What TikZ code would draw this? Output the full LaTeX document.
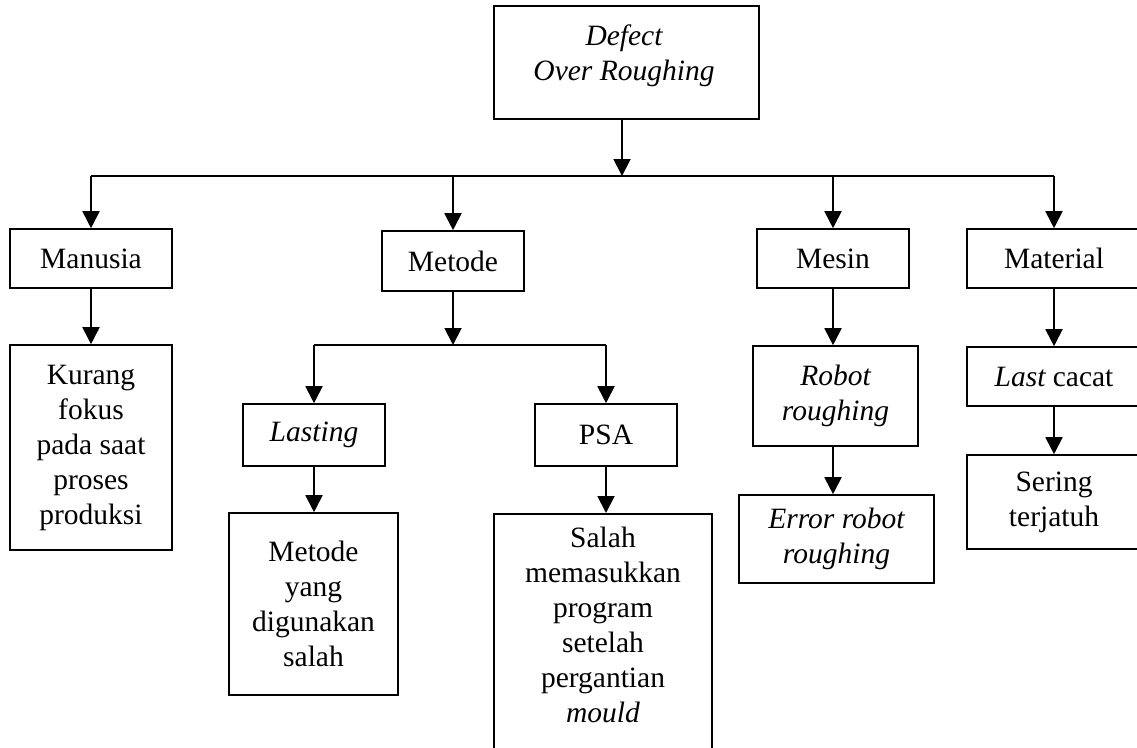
\documentclass[tikz,border=0pt]{standalone}
\usepackage{fontspec}
\setmainfont{Liberation Serif}
\usetikzlibrary{arrows.meta,calc}
\begin{document}
\begin{tikzpicture}[x=1pt,y=-1pt,
  box/.style={draw,line width=1.6pt,rectangle,inner sep=0pt,align=center,
    font=\fontsize{29.5}{35}\selectfont},
  txt/.style={inner sep=0pt,align=center,font=\fontsize{29.5}{35}\selectfont},
  arr/.style={line width=1.9pt,-{Triangle[width=17pt,length=17pt]}},
  ln/.style={line width=1.6pt}]
\useasboundingbox (0,0) rectangle (1137,747);
\clip (0,0) rectangle (1137,747);
\fill[white] (0,0) rectangle (1137,747);
% top
\node[box,minimum width=265pt,minimum height=113pt] (top) at (626.5,62.5) {};
\node[txt] (toptxt) at (624,56) {\itshape Defect\\\itshape Over Roughing};
\coordinate (j0) at (622,176);
% level 1
\node[box,minimum width=162pt,minimum height=59pt] (man) at (91,258.5) {Manusia};
\node[box,minimum width=142pt,minimum height=60pt] (met) at (453,261) {Metode};
\node[box,minimum width=152pt,minimum height=59pt] (mes) at (833,258.5) {Mesin};
\node[box,minimum width=174pt,minimum height=59pt] (mat) at (1054,258.5) {Material};
\draw[arr] (top.south -| j0) -- (j0);
\draw[ln] (man.north |- j0) -- (mat.north |- j0);
\draw[arr] (man.north |- j0) -- (man.north);
\draw[arr] (met.north |- j0) -- (met.north);
\draw[arr] (mes.north |- j0) -- (mes.north);
\draw[arr] (mat.north |- j0) -- (mat.north);
% Manusia
\node[box,minimum width=162pt,minimum height=205pt] (kur) at (91,447.5) {Kurang\\fokus\\pada saat\\proses\\produksi};
\draw[arr] (man.south) -- (kur.north);
% Metode
\coordinate (j1) at (454,345);
\node[box,minimum width=142pt,minimum height=62pt] (las) at (314,435) {\itshape Lasting};
\node[box,minimum width=142pt,minimum height=62pt] (psa) at (606,435) {PSA};
\draw[arr] (met.south) -- (met.south |- j1);
\draw[ln] (las.north |- j1) -- (psa.north |- j1);
\draw[arr] (las.north |- j1) -- (las.north);
\draw[arr] (psa.north |- j1) -- (psa.north);
\node[box,minimum width=169pt,minimum height=182pt] (myd) at (313.5,604) {Metode\\yang\\digunakan\\salah};
\node[box,minimum width=218pt,minimum height=262pt,anchor=north] (sal) at (603,513) {};
\node[txt,anchor=north] (saltxt) at (603,527) {Salah\\memasukkan\\program\\setelah\\pergantian\\\itshape mould};
\draw[arr] (las.south) -- (las.south |- myd.north);
\draw[arr] (psa.south) -- (psa.south |- sal.north);
% Mesin
\node[box,minimum width=165pt,minimum height=100pt] (rob) at (835.5,396) {\itshape Robot\\\itshape roughing};
\node[box,minimum width=195pt,minimum height=88pt] (err) at (836.5,539) {\itshape Error robot\\\itshape roughing};
\draw[arr] (mes.south) -- (mes.south |- rob.north);
\draw[arr] (mes.south |- rob.south) -- (mes.south |- err.north);
% Material
\node[box,minimum width=174pt,minimum height=59pt] (las2) at (1054,376.5) {\itshape Last\upshape{} cacat};
\node[box,minimum width=174pt,minimum height=94pt] (ser) at (1054,502) {Sering\\terjatuh};
\draw[arr] (mat.south) -- (las2.north);
\draw[arr] (las2.south) -- (ser.north);
\end{tikzpicture}
\end{document}
